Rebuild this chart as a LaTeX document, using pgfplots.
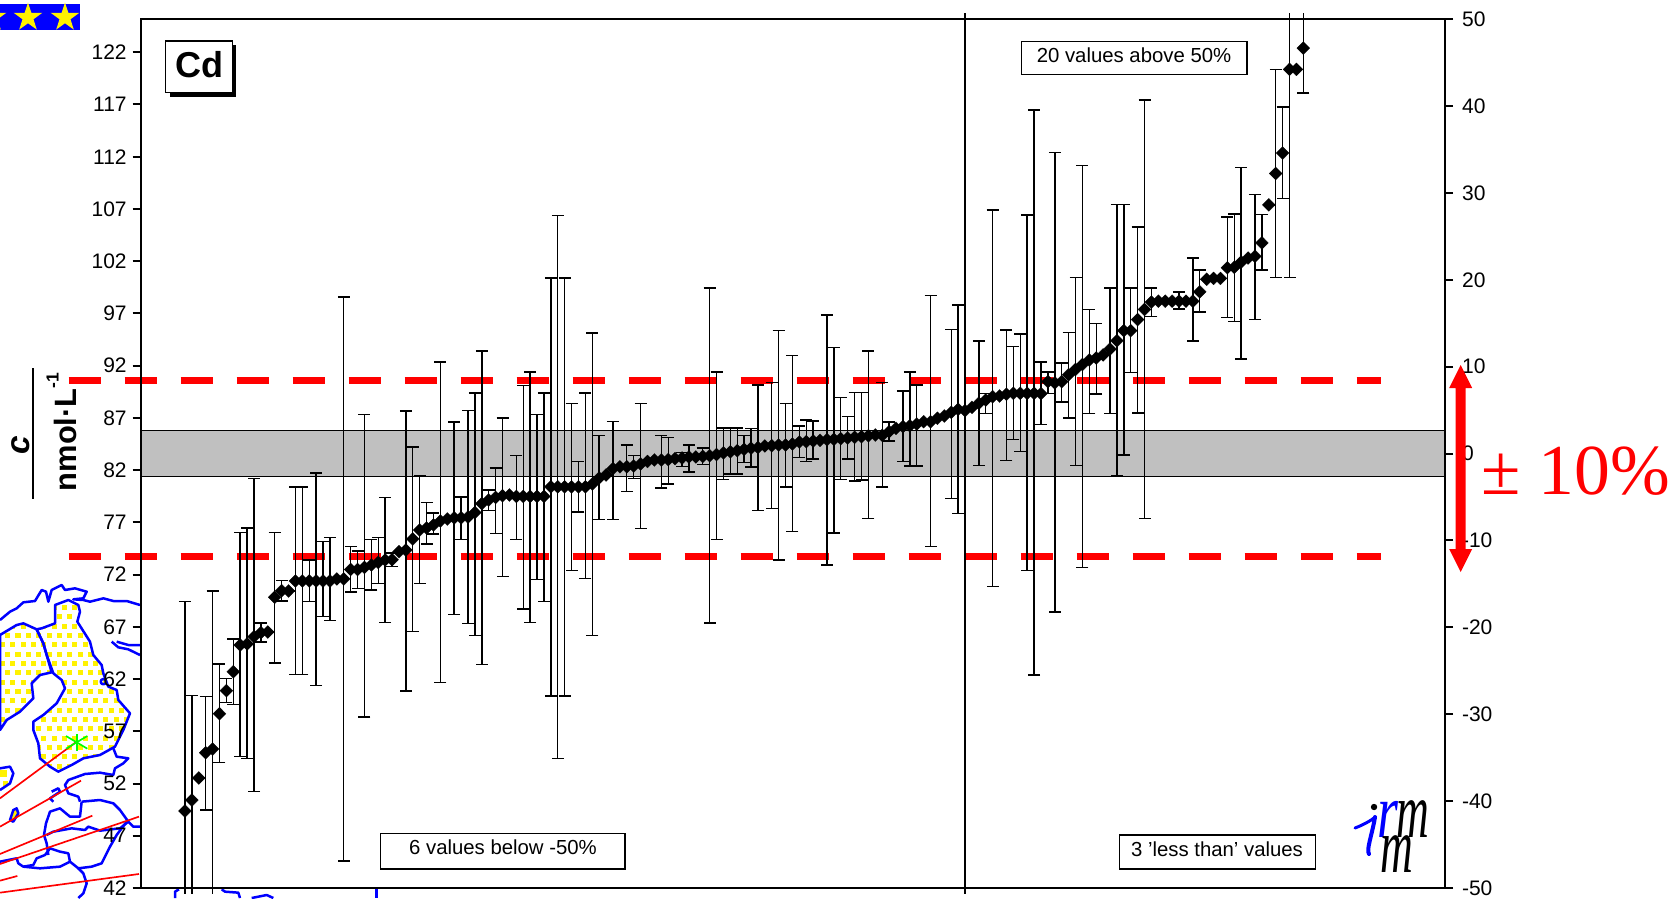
\documentclass[border=0pt]{standalone}
\usepackage{fontspec}
\usepackage{pgfplots}
\usepackage{pgfplotstable}
\pgfplotsset{compat=1.18}
\usetikzlibrary{shapes.geometric}
\setmainfont{Liberation Sans}
\newfontfamily\timesfont{Liberation Serif}

% lab, measured c, upper and lower end of the bar (labs with no bar: hi = lo = c)
% bars that run off the chart have hi = 130 or lo = 38, they get clipped
\pgfplotstableread{
n c hi lo
0 49.37 69.40 38
1 50.42 60.41 38
2 52.53 52.53 52.53
3 54.95 60.35 49.47
4 55.30 70.43 38
5 58.68 63.44 53.99
6 60.89 62.03 59.78
7 62.70 65.83 59.58
8 65.26 76.03 54.57
9 65.36 76.46 54.38
10 66.05 81.19 51.22
11 66.44 67.37 65.55
12 66.50 66.50 66.50
13 69.83 76.03 63.54
14 70.46 71.41 69.47
15 70.43 70.43 70.43
16 71.39 80.38 62.42
17 71.39 80.38 62.42
18 71.39 73.40 69.40
19 71.39 81.72 61.36
20 71.39 75.17 67.97
21 71.39 75.53 67.61
22 71.58 71.58 71.58
23 71.58 98.57 44.58
24 72.49 74.70 70.33
25 72.49 74.26 70.68
26 72.69 87.30 58.37
27 72.92 75.33 70.54
28 73.16 75.53 71.15
29 73.40 79.38 67.40
30 73.42 74.07 72.75
31 74.19 74.19 74.19
32 74.35 87.66 60.86
33 75.41 84.21 66.56
34 76.27 81.46 71.15
35 76.46 78.88 74.93
36 76.75 77.90 75.88
37 77.13 92.35 61.67
38 77.32 77.32 77.32
39 77.43 86.60 68.20
40 77.43 79.42 75.38
41 77.51 87.69 67.31
42 77.94 89.39 66.15
43 78.79 93.40 63.41
44 79.14 80.10 78.12
45 79.38 82.21 75.96
46 79.55 87.00 71.83
47 79.62 79.62 79.62
48 79.48 83.41 75.38
49 79.48 90.08 68.72
50 79.48 91.38 67.41
51 79.48 87.34 71.52
52 79.48 89.39 69.40
53 80.40 100.40 60.38
54 80.40 106.35 54.42
55 80.40 100.40 60.38
56 80.40 88.37 72.37
57 80.40 82.80 78.01
58 80.40 89.39 71.62
59 80.67 95.13 66.15
60 81.25 85.29 77.26
61 81.53 81.53 81.53
62 82.14 86.66 77.26
63 82.32 82.32 82.32
64 82.32 84.40 79.96
65 82.39 83.38 81.19
66 82.59 88.37 76.40
67 82.83 82.83 82.83
68 82.97 82.97 82.97
69 82.97 85.29 80.27
70 83.01 85.12 80.68
71 83.10 83.10 83.10
72 83.16 83.69 82.32
73 83.26 84.40 81.82
74 83.26 83.26 83.26
75 83.31 84.10 82.56
76 83.38 99.44 67.38
77 83.49 91.41 75.38
78 83.65 86.04 81.09
79 83.75 86.04 81.64
80 83.86 86.04 81.64
81 83.99 85.29 82.73
82 84.10 85.97 82.29
83 84.16 90.15 78.12
84 84.31 84.31 84.31
85 84.34 90.41 78.34
86 84.40 95.38 73.40
87 84.40 88.40 80.38
88 84.50 92.95 76.11
89 84.69 86.22 83.23
90 84.72 86.80 82.81
91 84.79 86.70 83.06
92 84.85 84.85 84.85
93 84.91 96.85 72.92
94 84.95 93.76 75.98
95 85.01 88.93 81.08
96 85.07 87.11 83.06
97 85.14 89.45 80.96
98 85.20 89.45 81.05
99 85.29 93.40 77.39
100 85.36 85.36 85.36
101 85.33 90.41 80.38
102 85.68 86.61 84.79
103 86.00 86.00 86.00
104 86.16 89.57 82.81
105 86.25 91.39 82.39
106 86.41 90.15 82.39
107 86.63 86.63 86.63
108 86.63 98.70 74.71
109 86.96 86.96 86.96
110 87.18 87.18 87.18
111 87.53 95.48 79.30
112 87.82 97.80 77.83
113 87.69 130 38
114 88.01 88.01 88.01
115 88.40 94.36 82.42
116 88.71 89.35 87.44
117 89.03 106.90 70.84
118 89.09 89.09 89.09
119 89.26 95.43 82.93
120 89.35 93.81 84.91
121 89.35 95.03 83.76
122 89.35 106.41 72.37
123 89.35 116.45 62.39
124 89.32 92.35 86.39
125 90.47 91.39 89.35
126 90.35 112.38 68.42
127 90.47 92.27 88.50
128 91.13 95.15 86.99
129 91.64 100.43 82.46
130 92.11 111.18 72.70
131 92.54 97.38 87.42
132 92.73 96.05 89.30
133 93.02 93.02 93.02
134 93.59 99.45 87.42
135 94.38 107.42 81.48
136 95.35 107.42 83.44
137 95.35 99.45 91.37
138 96.41 105.28 87.47
139 97.38 117.43 77.38
140 98.09 99.45 96.72
141 98.17 98.17 98.17
142 98.17 98.17 98.17
143 98.17 98.17 98.17
144 98.17 99.03 97.42
145 98.17 98.17 98.17
146 98.17 102.30 94.34
147 99.07 101.14 97.12
148 100.27 100.27 100.27
149 100.35 100.35 100.35
150 100.35 100.35 100.35
151 101.37 106.23 96.60
152 101.41 106.53 96.25
153 101.92 110.99 92.62
154 102.30 102.30 102.30
155 102.47 108.40 96.41
156 103.75 106.49 101.14
157 107.39 107.39 107.39
158 110.39 120.36 100.43
159 112.35 116.77 108.01
160 120.36 130 100.43
161 120.36 120.36 120.36
162 122.39 130 118.10
}\labs

\definecolor{bandgray}{HTML}{C0C0C0}
\definecolor{mapblue}{HTML}{0000FF}
\definecolor{grn}{HTML}{00FF00}
\def\sweden{(0,285)--(50,255)--(70,250)--(110,268)--(130,310)--(140,345)--(155,397)--(120,405)--(95,430)--(100,475)--(60,515)--(20,540)--(0,570)--cycle}
\def\finland{(165,195)--(205,180)--(235,195)--(240,215)--(232,245)--(270,305)--(280,345)--(305,375)--(310,400)--(325,440)--(350,450)--(355,480)--(390,520)--(370,570)--(345,620)--(300,645)--(250,655)--(215,675)--(175,695)--(150,680)--(120,655)--(115,610)--(100,570)--(100,545)--(130,525)--(170,490)--(195,445)--(185,420)--(160,400)--(140,345)--(130,310)--(110,268)--(125,265)--(165,250)--cycle}
\newcommand\yellowdots{\foreach \j in {0,...,18} \foreach \i in {0,...,13} \fill[yellow] ({\i*31+mod(\j,2)*15.5},{195+\j*28}) rectangle ++(15,15);}

\begin{document}
\begin{tikzpicture}[
  px/.style={x=0.6pt,y=-0.6pt,yshift=538.8pt},
  mp/.style={x=0.2pt,y=-0.2pt,yshift=214.8pt},
  tbox/.style={draw=none,inner sep=0pt,font=\fontsize{12.2}{14}\selectfont}]
\useasboundingbox (0,0) rectangle (1002.6pt,538.8pt);

% map behind the axes, drawn in zoomed pixel units
\begin{scope}[mp]
  \begin{scope}\clip \sweden; \yellowdots \end{scope}
  \begin{scope}\clip \finland; \yellowdots \end{scope}
  \fill[yellow] (30,840)--(40,810)--(50,805)--(55,820)--(40,845)--cycle;
  \begin{scope}\clip (0,685)--(30,680)--(40,700)--(30,730)--(0,750)--cycle; \fill[yellow] (0,690) rectangle (20,710); \fill[yellow] (8,722) rectangle (24,738); \end{scope}
  \begin{scope}[draw=mapblue,line width=1.5pt,line join=round]
    \draw \sweden;
    \draw \finland;
    \draw (0,240)--(30,215)--(50,205)--(70,187)--(105,183)--(125,150)--(138,155)--(145,185)--(155,150)--(185,135)--(195,150)--(225,145)--(260,155)--(250,175)--(220,178)--(250,180)--(270,185)--(310,175)--(340,183)--(380,183)--(420,195);
    \draw (335,305)--(355,322)--(385,328)--(420,345);
    \draw (350,305)--(385,315)--(420,315);
    \draw (310,425) circle (8);
    \draw (340,625)--(350,650)--(385,655)--(370,670)--(345,685)--(340,705)--(300,698)--(255,702)--(205,720)--(195,735)--(205,760)--(235,770)--(240,785);
    \draw (245,785)--(300,780)--(340,790)--(360,810)--(385,845)--(400,860)--(420,860);
    \draw (245,785)--(240,830)--(210,830)--(180,805)--(150,815)--(138,850)--(132,885)--(140,910)--(145,945);
    \draw (140,885)--(160,875)--(215,865)--(255,870)--(265,860)--(300,872)--(360,865)--(385,845);
    \draw (0,965)--(50,955)--(55,970)--(70,980)--(100,975)--(110,955)--(135,945)--(150,925)--(180,935)--(205,940)--(210,965)--(235,985)--(275,980)--(305,970)--(315,950)--(330,920)--(350,885)--(380,845);
    \draw (70,980)--(120,985)--(180,980)--(210,965);
    \draw (235,985)--(250,1000)--(260,1030)--(250,1060)--(235,1074);
    \draw (155,755)--(175,745)--(180,755)--(165,765)--(150,775)--(160,785);
    \draw (30,840)--(40,810)--(50,805)--(55,820)--(40,845)--cycle;
    \draw (0,685)--(30,680)--(40,700)--(30,730)--(0,750);
    \draw (525,1074)--(525,1055)--(537,1048);
    \draw (665,1048)--(675,1055)--(715,1058)--(720,1074);
    \draw (755,1074)--(800,1065)--(820,1074);
    \draw (1130,1045)--(1130,1074);
  \end{scope}
  \begin{scope}[draw=red,line width=1pt]
    \draw (0,775)--(230,605);
    \draw (0,860)--(243,722);
    \draw (0,942)--(277,827);
    \draw (0,972)--(417,830);
    \draw (0,1022)--(52,1008);
    \draw (0,1058)--(417,1002);
  \end{scope}
  \begin{scope}[draw=grn,line width=1pt]
    \draw (230,582)--(230,632);
    \draw (198,588)--(262,626);
    \draw (198,626)--(262,588);
  \end{scope}
\end{scope}

% left axis: concentration
\begin{axis}[
  at={(84.6pt,6pt)},anchor=south west,
  width=782.2pt,height=521.28pt,scale only axis,
  axis background/.style={fill=white},
  clip=false,axis on top,
  xmin=-6.37,xmax=182.48,ymin=42,ymax=125.16,
  xtick=\empty,
  ytick={42,47,...,122},ytick pos=left,
  tick align=outside,major tick length=5.1pt,
  axis line style={line width=1.2pt},
  tick style={line width=1.2pt,black},
  /pgf/number format/assume math mode=true,
  tick label style={font=\fontsize{12.6}{14}\selectfont},
]
  \addplot[draw=black,line width=1pt,fill=bandgray] coordinates {(-6.37,81.40) (182.48,81.40) (182.48,85.79) (-6.37,85.79)} --cycle;
  \addplot[red,line width=4.2pt,dash pattern=on 19.2pt off 14.4pt] coordinates {(-16.85,90.59) (173.2,90.59)};
  \addplot[red,line width=4.2pt,dash pattern=on 19.2pt off 14.4pt] coordinates {(-16.85,73.76) (173.2,73.76)};
\end{axis}

% labs: same scale, box 5 px larger top and bottom so that long bars stop just past the frame
\begin{axis}[
  at={(84.6pt,3pt)},anchor=south west,
  width=782.2pt,height=527.4pt,scale only axis,
  hide axis,clip=true,
  xmin=-6.37,xmax=182.48,ymin=41.52,ymax=125.66,
]
  \addplot[only marks,mark=diamond*,mark size=3.9pt,black,
    mark options={xscale=1.33,draw=black,fill=black,line width=0.1pt},
    error bars/.cd,y dir=both,y explicit,
    error bar style={line width=0.85pt,black},
    error mark options={rotate=90,mark size=3.6pt,line width=0.85pt,black}]
    table[x=n,y=c,y error plus expr=\thisrow{hi}-\thisrow{c},y error minus expr=\thisrow{c}-\thisrow{lo}] {\labs};
\end{axis}

% right axis: deviation in percent
\begin{axis}[
  at={(84.6pt,6pt)},anchor=south west,
  width=782.2pt,height=521.28pt,scale only axis,
  hide x axis,axis y line*=right,
  xmin=0,xmax=1,ymin=-50,ymax=50,
  ytick={-50,-40,...,50},
  tick align=outside,major tick length=5.1pt,
  axis line style={line width=1.2pt},
  tick style={line width=1.2pt,black},
  /pgf/number format/assume math mode=true,
  tick label style={font=\fontsize{12.6}{14}\selectfont},
  yticklabel style={xshift=1.8pt},
]
  \addplot[draw=none] coordinates {(0,0) (1,0)};
\end{axis}

\begin{scope}[px]
  % flag
  \fill[blue] (0,4) rectangle (80,30);
  \foreach \sx in {-8,28,65}
    \node[star,star points=5,star point ratio=2.6,fill=yellow,inner sep=0pt,minimum size=18pt] at (\sx,17.5) {};
  % element box
  \fill[black] (170,45) rectangle (236,97);
  \draw[fill=white,line width=0.7pt] (165.7,41) rectangle (232.3,92.3);
  \node[font=\fontsize{21.6}{24}\selectfont\bfseries,inner sep=0pt] at (199,65) {Cd};
  % quantity label
  \draw[line width=1.4pt] (33,368.3)--(33,499.3);
  \node[rotate=90,anchor=base,inner sep=0pt,font=\fontsize{20}{22}\selectfont\bfseries\itshape] at (29,445) {c};
  \node[rotate=90,anchor=base,inner sep=0pt,font=\fontsize{18.5}{20}\selectfont\bfseries] at (76,432) {nmol·L\raisebox{10.5pt}{\fontsize{10.5}{11}\selectfont -1}};
  % notes
  \draw[fill=white,line width=0.7pt] (1021.3,41.2) rectangle (1247,74.3);
  \node[tbox] at (1134,55) {20 values above 50\%};
  \draw[fill=white,line width=0.7pt] (380.7,833.7) rectangle (625,869);
  \node[tbox] at (503,847) {6 values below -50\%};
  \draw[fill=white,line width=0.7pt] (1119.7,835) rectangle (1315.3,869);
  \node[tbox] at (1217,849) {3 \char39 less than\char39{} values};
  % logo
  \draw[mapblue,line width=1.8pt,line cap=round] (1355,828) .. controls (1363,825) and (1372,820) .. (1375,817);
  \draw[mapblue,line width=2.4pt,line cap=round] (1375,817) .. controls (1372,835) and (1366,850) .. (1369,854);
  \fill[black] (1374,807) circle (3.2);
  \node[anchor=base,inner sep=0pt,text=mapblue,xscale=0.7,font=\fontsize{46}{48}\selectfont\timesfont\itshape] at (1388,837) {r};
  \node[anchor=base,inner sep=0pt,xscale=0.58,font=\fontsize{47}{49}\selectfont\timesfont\itshape] at (1413,837) {m};
  \node[anchor=base,inner sep=0pt,xscale=0.58,font=\fontsize{47}{49}\selectfont\timesfont\itshape] at (1397,872) {m};
  % tolerance arrow and text
  \fill[red] (1460.7,365)--(1472.2,388)--(1465.7,388)--(1465.7,549)--(1472.2,549)--(1460.7,572)--(1449.2,549)--(1455.7,549)--(1455.7,388)--(1449.2,388)--cycle;
  \node[anchor=base west,inner sep=0pt,text=red,font=\fontsize{43}{44}\selectfont\timesfont] at (1481,494.8) {± 10\%};
\end{scope}
\end{tikzpicture}
\end{document}
